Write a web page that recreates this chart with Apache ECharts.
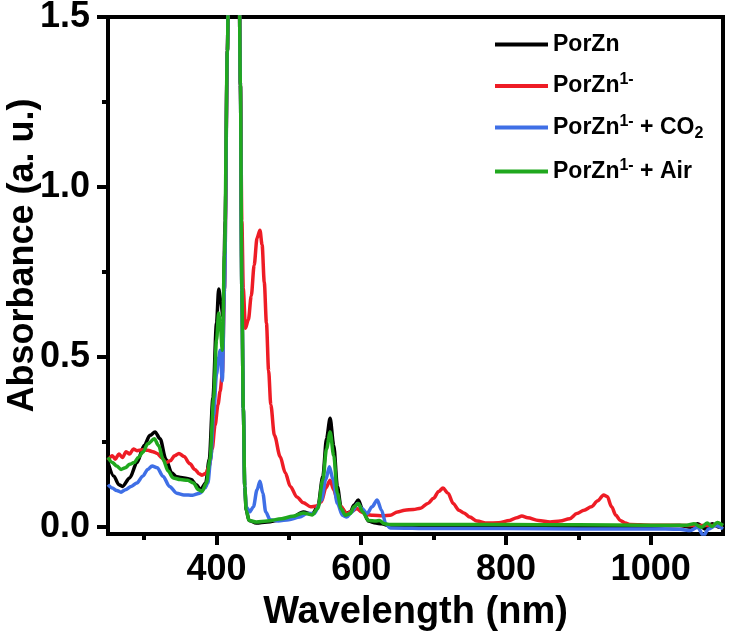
<!DOCTYPE html>
<html>
<head>
<meta charset="utf-8">
<script src="https://cdn.jsdelivr.net/npm/echarts@6/dist/echarts.min.js"></script>
<style>
html,body{margin:0;padding:0;background:#fff;}
#chart{width:731px;height:637px;}
</style>
</head>
<body>
<div id="chart"></div>
<script>
// ---- data (wavelength nm, absorbance) ----
var seriesNames = ['PorZn', 'PorZn1-', 'PorZn1- + CO2', 'PorZn1- + Air'];

var porZnX = [250,258,265,270,280,290,300,308,315,322,330,338,345,355,365,372,378,385,390,395,400,403,406,409,412,415,418,424,430,433,435,437,439,441,445,455,470,490,505,520,532,540,547,552,557,562,567,572,578,585,590,596,602,610,620,628,640,700,800,900,1000,1040,1055,1065,1075,1085,1095,1100];
var porZnY = [0.19,0.15,0.125,0.12,0.145,0.19,0.24,0.27,0.28,0.26,0.2,0.16,0.148,0.145,0.14,0.125,0.11,0.13,0.2,0.38,0.6,0.70,0.66,0.62,0.9,1.4,2.0,2.6,2.0,1.3,0.7,0.35,0.12,0.05,0.02,0.012,0.015,0.022,0.03,0.045,0.038,0.06,0.15,0.26,0.32,0.24,0.12,0.06,0.04,0.045,0.065,0.08,0.05,0.018,0.012,0.01,0.003,0.003,0.003,0.003,0.003,0.005,0.0,0.01,-0.005,0.01,0.0,0.005];

var anionX = [250,256,260,265,270,275,280,285,290,298,305,312,318,324,330,336,342,348,355,363,370,376,380,385,390,394,398,402,405,408,411,415,418,424,430,433,435,437,440,444,448,452,456,460,463,466,469,472,475,480,488,495,502,511,520,530,538,545,551,557,562,567,572,580,588,594,600,608,616,630,640,650,660,672,682,692,700,707,713,720,727,735,742,750,760,774,790,805,815,822,830,845,861,875,888,898,908,918,927,935,940,946,952,958,965,972,1000,1050,1100];
var anionY = [0.197,0.21,0.2,0.215,0.205,0.222,0.215,0.23,0.225,0.228,0.226,0.222,0.217,0.205,0.19,0.195,0.21,0.217,0.208,0.187,0.17,0.157,0.153,0.158,0.18,0.23,0.3,0.36,0.4,0.45,0.7,1.4,2.0,2.6,2.0,1.3,0.9,0.7,0.585,0.61,0.68,0.77,0.85,0.873,0.83,0.72,0.6,0.46,0.36,0.27,0.207,0.16,0.12,0.089,0.072,0.06,0.062,0.075,0.115,0.138,0.11,0.08,0.06,0.04,0.048,0.055,0.045,0.037,0.035,0.034,0.035,0.045,0.05,0.052,0.056,0.07,0.085,0.105,0.115,0.1,0.07,0.05,0.042,0.03,0.018,0.012,0.013,0.02,0.028,0.033,0.028,0.02,0.015,0.018,0.025,0.04,0.05,0.06,0.078,0.095,0.09,0.06,0.035,0.02,0.012,0.008,0.006,0.005,0.005];

var co2X = [250,256,262,268,274,282,290,298,305,311,318,326,335,345,355,367,377,384,388,392,396,400,403,405,408,411,415,418,424,430,433,435,437,439,441,446,451,456,460,464,468,474,485,500,515,525,535,545,551,556,561,567,574,580,587,595,601,608,615,622,628,634,640,700,800,900,1000,1040,1055,1065,1073,1080,1090,1100];
var co2Y = [0.125,0.115,0.108,0.103,0.11,0.12,0.13,0.15,0.17,0.18,0.175,0.15,0.12,0.1,0.095,0.094,0.1,0.115,0.13,0.2,0.33,0.45,0.5,0.52,0.43,0.7,1.4,2.0,2.6,2.0,1.3,0.7,0.35,0.12,0.06,0.045,0.06,0.11,0.135,0.1,0.045,0.022,0.018,0.022,0.03,0.04,0.04,0.08,0.14,0.178,0.14,0.07,0.035,0.03,0.045,0.07,0.055,0.04,0.06,0.08,0.05,0.01,-0.002,-0.004,-0.004,-0.005,-0.005,-0.006,-0.01,0.0,-0.025,-0.005,0.005,-0.005];

var airX = [250,256,262,268,274,280,286,292,298,305,314,320,326,333,340,350,360,368,375,380,386,391,396,400,403,405,408,411,415,418,424,430,433,435,437,439,441,445,455,470,490,505,520,532,540,547,552,557,562,567,572,578,585,590,596,602,610,620,625,632,640,700,800,900,1000,1050,1060,1070,1078,1085,1092,1100];
var airY = [0.205,0.19,0.18,0.17,0.175,0.185,0.19,0.205,0.22,0.245,0.26,0.24,0.2,0.165,0.145,0.14,0.138,0.13,0.11,0.105,0.13,0.2,0.38,0.55,0.63,0.6,0.52,0.8,1.4,2.0,2.6,2.0,1.3,0.7,0.35,0.12,0.05,0.02,0.015,0.018,0.025,0.032,0.042,0.036,0.055,0.14,0.23,0.28,0.21,0.1,0.055,0.035,0.04,0.06,0.07,0.045,0.02,0.018,0.02,0.01,0.008,0.008,0.008,0.007,0.006,0.006,0.01,0.0,0.012,0.002,0.014,0.005];

// ---- axis ticks ----
var xMajorTicks = [400, 600, 800, 1000];
var xMinorTicks = [300, 500, 700, 900];
var yMajorTicks = [0, 0.5, 1.0, 1.5];
var yMinorTicks = [0.25, 0.75, 1.25];

var colors = ['#000000', '#ee1c25', '#3f6fe6', '#20a81e'];

function pairs(xs, ys) {
  var out = [];
  for (var i = 0; i < xs.length; i++) out.push([xs[i], ys[i]]);
  return out;
}
var seriesData = [pairs(porZnX, porZnY), pairs(anionX, anionY), pairs(co2X, co2Y), pairs(airX, airY)];

var FONT = '"Liberation Sans", Arial, Helvetica, sans-serif';

var legendRich = {
  b: {fontSize: 23, fontWeight: 'bold', fontFamily: FONT, color: '#000'},
  sup: {fontSize: 16, fontWeight: 'bold', fontFamily: FONT, color: '#000', verticalAlign: 'top', padding: [0, 0, 12, 0]},
  sub: {fontSize: 16, fontWeight: 'bold', fontFamily: FONT, color: '#000', verticalAlign: 'bottom', padding: [10, 0, 0, 0]}
};
var legendFormat = {
  'PorZn': '{b|PorZn}',
  'PorZn1-': '{b|PorZn}{sup|1-}',
  'PorZn1- + CO2': '{b|PorZn}{sup|1-}{b| + CO}{sub|2}',
  'PorZn1- + Air': '{b|PorZn}{sup|1-}{b| + Air}'
};

var chart = echarts.init(document.getElementById('chart'), null, {renderer: 'canvas'});
var option = {
  backgroundColor: '#ffffff',
  animation: false,
  color: colors,
  grid: {left: 108, right: 8, top: 17, bottom: 103, show: true, borderColor: '#000', borderWidth: 4,
    backgroundColor: 'transparent', containLabel: false, outerBoundsMode: 'none'},
  legend: {
    orient: 'vertical',
    left: 495,
    top: 33,
    padding: 0,
    icon: 'rect',
    itemWidth: 53,
    itemHeight: 4,
    itemGap: 16,
    data: seriesNames,
    formatter: function (n) { return legendFormat[n]; },
    textStyle: {rich: legendRich, fontSize: 23, fontWeight: 'bold', fontFamily: FONT, color: '#000'}
  },
  xAxis: [
    {
      type: 'value', min: 250, max: 1100,
      name: 'Wavelength (nm)', nameLocation: 'middle', nameGap: 60, nameMoveOverlap: false,
      nameTextStyle: {fontSize: 38, fontWeight: 'bold', fontFamily: FONT, color: '#000'},
      axisLine: {onZero: false, lineStyle: {color: '#000', width: 4}},
      axisTick: {inside: false, customValues: xMajorTicks, length: 11, lineStyle: {width: 4, color: '#000'}},
      axisLabel: {customValues: xMajorTicks, margin: 18, fontSize: 36, fontWeight: 'bold', fontFamily: FONT, color: '#000',
        formatter: function (v) { return String(v); }},
      splitLine: {show: false}
    },
    {
      type: 'value', min: 250, max: 1100, position: 'bottom', offset: 0,
      axisLine: {show: false, onZero: false},
      axisTick: {inside: false, customValues: xMinorTicks, length: 6, lineStyle: {width: 4, color: '#000'}},
      axisLabel: {show: false},
      splitLine: {show: false}
    }
  ],
  yAxis: [
    {
      type: 'value', min: -0.02, max: 1.5,
      name: 'Absorbance (a. u.)', nameLocation: 'middle', nameGap: 67, nameRotate: 90, nameMoveOverlap: false,
      nameTextStyle: {fontSize: 36, fontWeight: 'bold', fontFamily: FONT, color: '#000', padding: [0, 0, 0, 40]},
      axisLine: {onZero: false, lineStyle: {color: '#000', width: 4}},
      axisTick: {inside: false, customValues: yMajorTicks, length: 11, lineStyle: {width: 4, color: '#000'}},
      axisLabel: {customValues: yMajorTicks, margin: 18, fontSize: 36, fontWeight: 'bold', fontFamily: FONT, color: '#000',
        formatter: function (v) { return v.toFixed(1); }},
      splitLine: {show: false}
    },
    {
      type: 'value', min: -0.02, max: 1.5, position: 'left', offset: 0,
      axisLine: {show: false, onZero: false},
      axisTick: {inside: false, customValues: yMinorTicks, length: 6, lineStyle: {width: 4, color: '#000'}},
      axisLabel: {show: false},
      splitLine: {show: false}
    }
  ],
  series: seriesNames.map(function (n, i) {
    return {
      name: n, type: 'line', xAxisIndex: 0, yAxisIndex: 0,
      data: seriesData[i], symbol: 'none', showSymbol: false,
      smooth: 0.3, smoothMonotone: 'x', clip: true,
      lineStyle: {width: 3.5, color: colors[i]},
      itemStyle: {color: colors[i]}
    };
  })
};
chart.setOption(option);
</script>
</body>
</html>
